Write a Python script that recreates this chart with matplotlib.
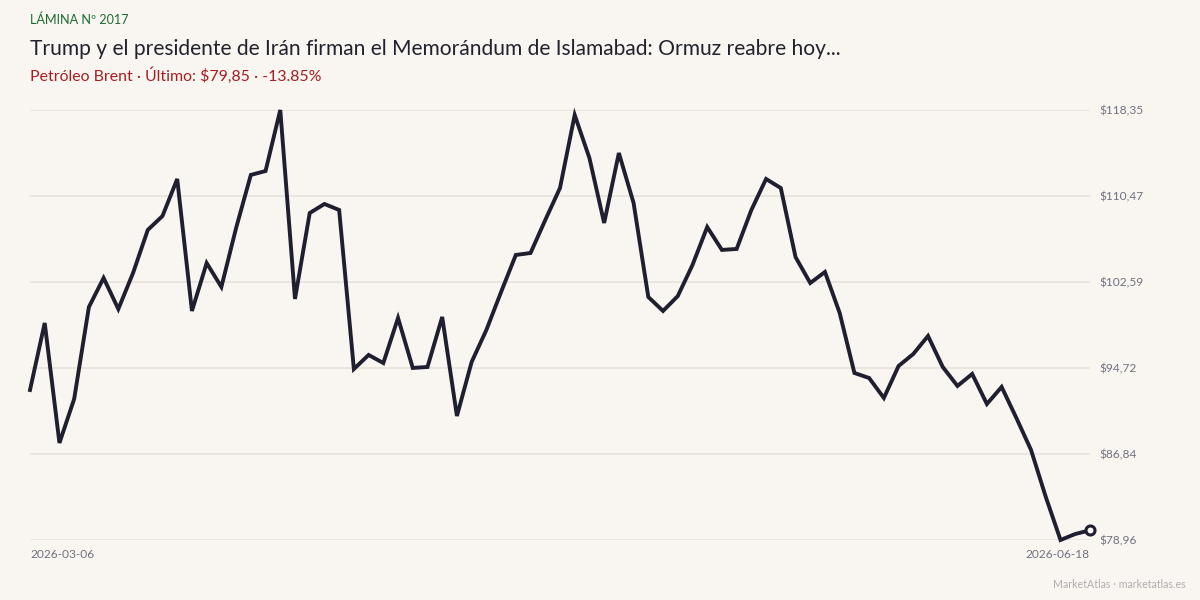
import numpy as np
import matplotlib
matplotlib.use('Agg')
import matplotlib.pyplot as plt

plt.rcParams['font.family'] = ['Lato', 'DejaVu Sans']

# Brent closing prices
prices = [92.70, 98.84, 87.85, 91.88, 100.30, 102.96, 100.12, 103.42, 107.36, 108.64,
          112.03, 99.94, 104.33, 102.14, 107.54, 112.40, 112.76, 118.35, 101.04, 108.91,
          109.74, 109.19, 94.62, 95.91, 95.17, 99.30, 94.72, 94.81, 99.39, 90.32,
          95.27, 98.20, 101.68, 105.07, 105.25, 108.27, 111.20, 117.89, 113.95, 108.00,
          114.41, 109.83, 101.22, 99.94, 101.30, 104.15, 107.63, 105.53, 105.62, 109.19,
          112.03, 111.20, 104.88, 102.50, 103.51, 99.75, 94.26, 93.80, 91.97, 94.90,
          96.00, 97.65, 94.81, 93.07, 94.17, 91.42, 92.98, 90.14, 87.20, 82.90,
          78.96, 79.51, 79.85]
first_date = '2026-03-06'
last_date = '2026-06-18'

kicker = 'LÁMINA Nº 2017'
title = 'Trump y el presidente de Irán firman el Memorándum de Islamabad: Ormuz reabre hoy...'
subtitle = 'Petróleo Brent · Último: $79,85 · -13.85%'
footer = 'MarketAtlas · marketatlas.es'

bg = '#f9f6f1'
ink = '#1f1f30'
grey = '#707080'

x = np.arange(len(prices))
lo, hi = min(prices), max(prices)
yticks = np.linspace(lo, hi, 6)

fig = plt.figure(figsize=(12, 6), dpi=100, facecolor=bg)
ax = fig.add_axes([0.025, 0.1, 0.8833, 0.7167])
ax.set_facecolor(bg)

for t in yticks:
    ax.axhline(t, color='#e6e1d9', lw=1.1, zorder=1)

ax.plot(x, prices, color=ink, lw=2.8, solid_joinstyle='miter', clip_on=False, zorder=3)
ax.plot(x[-1], prices[-1], 'o', ms=6.5, mfc='white', mec=ink, mew=2.2, clip_on=False, zorder=4)

ax.set_xlim(0, len(prices) - 1)
ax.set_ylim(lo, hi)
for s in ax.spines.values():
    s.set_visible(False)
ax.set_xticks([])
ax.yaxis.tick_right()
ax.set_yticks(yticks)
ax.set_yticklabels(['$' + f'{t:.2f}'.replace('.', ',') for t in yticks], color=grey, fontsize=8.6)
ax.tick_params(axis='y', length=0, pad=7)

fig.text(30 / 1200, 1 - 555 / 600, first_date, color=grey, fontsize=8.6, ha='left', va='center')
fig.text(1090 / 1200, 1 - 555 / 600, last_date, color=grey, fontsize=8.6, ha='right', va='center')

fig.text(30 / 1200, 1 - 20 / 600, kicker, color='#1d6b33', fontsize=9.1, va='center')
fig.text(30 / 1200, 1 - 49 / 600, title, color='#22222e', fontsize=15.1, va='center')
fig.text(30 / 1200, 1 - 76 / 600, subtitle, color='#a61e22', fontsize=11.4, va='center')
fig.text(1186 / 1200, 1 - 584 / 600, footer, color='#b0adb0', fontsize=7.7, ha='right', va='center')

fig.savefig('out.png', dpi=100, facecolor=bg)
